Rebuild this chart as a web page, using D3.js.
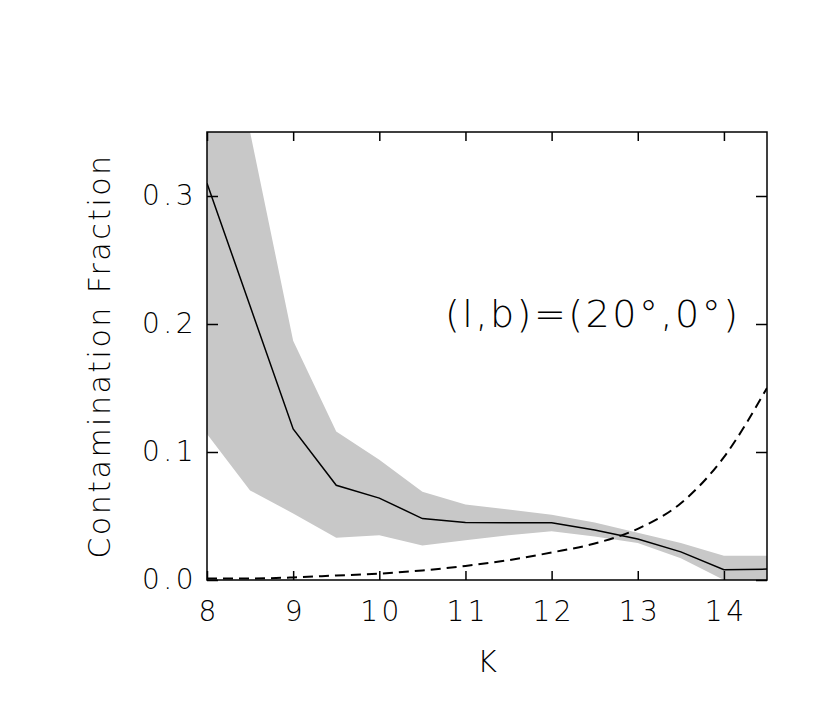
<!DOCTYPE html>
<html>
<head>
<meta charset="utf-8">
<script src="https://cdn.jsdelivr.net/npm/d3@7"></script>
<style>
    body { margin: 0; background: #fff; }
    text { font-family: "DejaVu Sans", sans-serif; font-weight: 200; fill: #000; }
</style>
</head>
<body>
<div id="chart-area"></div>
<script>
// K magnitude bins
let kValues = [8, 8.5, 9, 9.5, 10, 10.5, 11, 11.5, 12, 12.5, 13, 13.5, 14, 14.5];
// median contamination (solid line)
let median = [0.310, 0.214, 0.118, 0.074, 0.064, 0.048, 0.045, 0.0448, 0.0447, 0.039, 0.032, 0.022, 0.008, 0.0085];
// grey band limits
let upper = [0.42, 0.350, 0.187, 0.116, 0.094, 0.069, 0.059, 0.055, 0.051, 0.045, 0.037, 0.029, 0.019, 0.019];
let lower = [0.114, 0.070, 0.052, 0.033, 0.035, 0.027, 0.031, 0.035, 0.038, 0.034, 0.029, 0.017, 0.0, 0.0];
// dashed curve
let dashed = [0.0012, 0.0012, 0.002, 0.0035, 0.005, 0.0075, 0.011, 0.0155, 0.0215, 0.0285, 0.040, 0.060, 0.096, 0.150];

let xTicks = [8, 9, 10, 11, 12, 13, 14];
let yTicks = [0.0, 0.1, 0.2, 0.3];

let margin = { left: 207, top: 132, right: 63, bottom: 132 };
let width = 830, height = 712;
let w = width - margin.left - margin.right;
let h = height - margin.top - margin.bottom;

let svg = d3.select("#chart-area")
    .append("svg")
    .attr("width", width)
    .attr("height", height);

let g = svg.append("g")
    .attr("transform", "translate(" + margin.left + "," + margin.top + ")");

let x = d3.scaleLinear().domain([8, 14.5]).range([0, w]);
let y = d3.scaleLinear().domain([0, 0.35]).range([h, 0]);

g.append("clipPath").attr("id", "clip")
    .append("rect").attr("width", w).attr("height", h);

let rows = kValues.map(function (k, i) {
    return { k: k, med: median[i], lo: lower[i], hi: upper[i], d: dashed[i] };
});

let plot = g.append("g").attr("clip-path", "url(#clip)");

plot.append("path")
    .datum(rows)
    .attr("fill", "#c8c8c8")
    .attr("d", d3.area()
        .x(d => x(d.k))
        .y0(d => y(d.lo))
        .y1(d => y(d.hi)));

plot.append("path")
    .datum(rows)
    .attr("fill", "none")
    .attr("stroke", "#000")
    .attr("stroke-width", 1.5)
    .attr("d", d3.line().x(d => x(d.k)).y(d => y(d.med)));

plot.append("path")
    .datum(rows)
    .attr("fill", "none")
    .attr("stroke", "#000")
    .attr("stroke-width", 2)
    .attr("stroke-dasharray", "10,6")
    .attr("d", d3.line().curve(d3.curveMonotoneX).x(d => x(d.k)).y(d => y(d.d)));

// axes, ticks inside on all four sides
let ls = 3.5;
let xb = g.append("g")
    .attr("transform", "translate(0," + h + ")")
    .call(d3.axisBottom(x).tickValues(xTicks).tickSize(-9).tickPadding(21)
        .tickFormat(d3.format("d")));
let xt = g.append("g")
    .call(d3.axisTop(x).tickValues(xTicks).tickSize(-9).tickFormat(""));
let yl = g.append("g")
    .call(d3.axisLeft(y).tickValues(yTicks).tickSize(-11).tickPadding(10)
        .tickFormat(d3.format(".1f")));
let yr = g.append("g")
    .attr("transform", "translate(" + w + ",0)")
    .call(d3.axisRight(y).tickValues(yTicks).tickSize(-11).tickFormat(""));

[xb, xt, yl, yr].forEach(function (a) {
    a.select(".domain").remove();
    a.selectAll(".tick line").attr("stroke", "#000").attr("stroke-width", 1.5);
    a.selectAll(".tick text")
        .style("font-family", "'DejaVu Sans', sans-serif")
        .style("font-weight", 200)
        .attr("font-size", 28)
        .attr("letter-spacing", ls);
});
xb.selectAll(".tick text").attr("dy", "0.71em").attr("dx", ls / 2);

g.append("rect")
    .attr("width", w)
    .attr("height", h)
    .attr("fill", "none")
    .attr("stroke", "#000")
    .attr("stroke-width", 1.5);

g.append("text")
    .attr("x", w / 2)
    .attr("y", h + 92)
    .attr("text-anchor", "middle")
    .attr("font-size", 30)
    .text("K");

g.append("text")
    .attr("transform", "translate(" + (-97) + "," + (h / 2) + ") rotate(-90)")
    .attr("text-anchor", "middle")
    .attr("font-size", 30)
    .attr("letter-spacing", 2.5)
    .text("Contamination Fraction");

g.append("text")
    .attr("x", 445 - margin.left)
    .attr("y", y(0.2) + 3)
    .attr("font-size", 38)
    .attr("letter-spacing", 2.5)
    .text("(l,b)=(20°,0°)");
</script>
</body>
</html>
